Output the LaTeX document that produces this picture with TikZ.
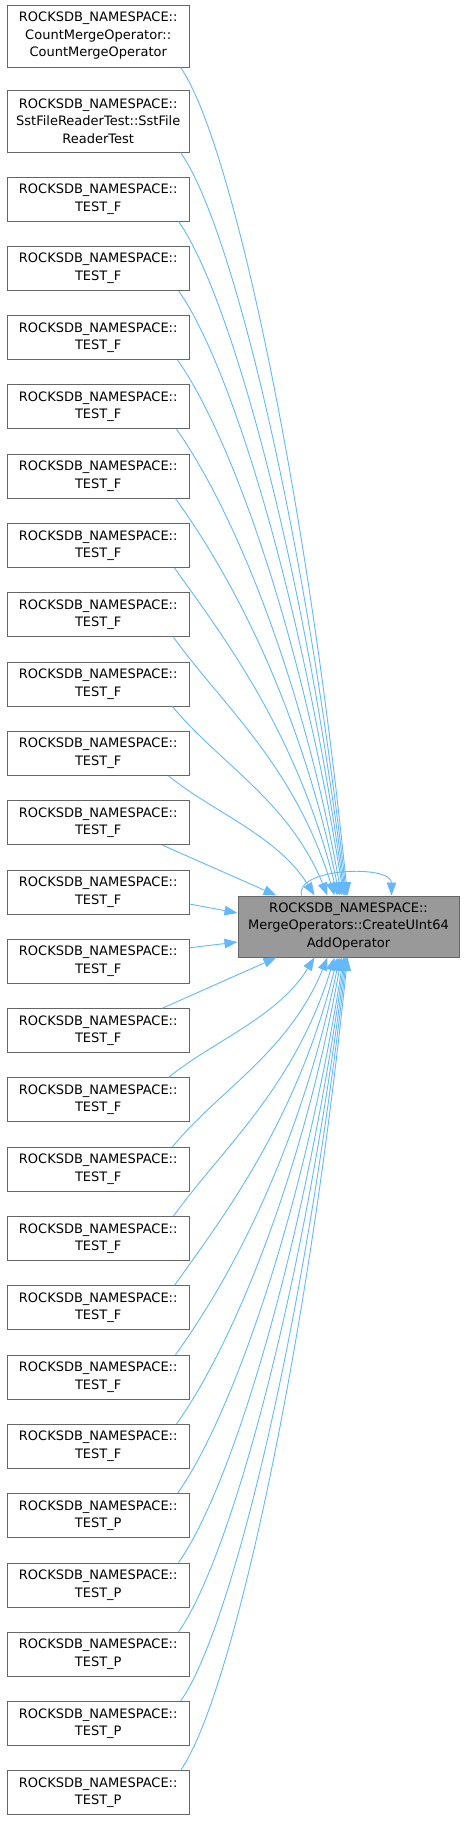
\documentclass[tikz,border=0pt]{standalone}
\usepackage{fontspec}
\setmainfont{DejaVu Sans}
\usetikzlibrary{arrows.meta}
\definecolor{edgeblue}{HTML}{63B8FF}
\definecolor{boxgray}{HTML}{666666}
\definecolor{fillgray}{HTML}{999999}
\begin{document}
\begin{tikzpicture}[x=1pt,y=-1pt,
  box/.style={draw=boxgray, line width=1pt, fill=white, minimum width=181.7pt, minimum height=44pt, inner sep=0pt, align=center, font=\fontsize{13}{17.5}\selectfont},
  mainbox/.style={box, fill=fillgray, minimum width=221pt, minimum height=61pt},
  edge/.style={draw=edgeblue, line width=0.9pt, -{Triangle[length=13pt,width=9.5pt]}}]
\useasboundingbox (0,0) rectangle (464,1821);

\node[box, minimum height=62pt] (b0) at (98.2,36) {ROCKSDB\_NAMESPACE::\\CountMergeOperator::\\CountMergeOperator};
\node[box, minimum height=62pt] (b1) at (98.2,121) {ROCKSDB\_NAMESPACE::\\SstFileReaderTest::SstFile\\ReaderTest};
\foreach \k in {2,...,20}
  \node[box] (b\k) at (98.2,{199+69.3*(\k-2)}) {ROCKSDB\_NAMESPACE::\\TEST\_F};
\foreach \k in {21,...,25}
  \node[box] (b\k) at (98.2,{199+69.3*(\k-2)}) {ROCKSDB\_NAMESPACE::\\TEST\_P};

\node[mainbox] (c) at (348.5,926.5) {ROCKSDB\_NAMESPACE::\\MergeOperators::CreateUInt64\\AddOperator};

% edges from upper boxes to the top of the main node
\foreach \k/\sx/\ex/\ax/\ay/\bx/\by in {
  0/-9/110/50/71/-42/-414,
  1/-9/109/50/70/-42/-372,
  2/-11/108/50/70/-42/-338,
  3/-11/107/50/70/-42/-303,
  4/-12/106/50/70/-42/-268,
  5/-13/104/50/70/-42/-234,
  6/-14/102/50/69/-41/-199,
  7/-15/100/49/69/-41/-164,
  8/-16/97/49/68/-40/-130,
  9/-17/90/47/57/-39/-95,
  10/-21/77/44/36/-37/-60}
  \draw[edge] ([xshift=\sx pt]b\k.south east) .. controls +(\ax,\ay) and +(\bx,\by) .. ([xshift=\ex pt]c.north west);
\draw[edge] ([xshift=-27pt]b11.south east) -- ([xshift=39pt]c.north west);

% edges from lower boxes to the bottom of the main node
\foreach \k/\sx/\ex/\ax/\ay/\bx/\by in {
  25/-9/110/50/-71/-42/407,
  24/-9/109/50/-70/-42/372,
  23/-11/108/50/-70/-42/338,
  22/-11/107/50/-70/-42/303,
  21/-12/106/50/-70/-42/268,
  20/-13/104/50/-70/-42/234,
  19/-14/102/50/-69/-41/199,
  18/-15/100/49/-69/-41/164,
  17/-16/97/49/-68/-40/130,
  16/-17/90/47/-57/-39/95,
  15/-21/77/44/-36/-37/60}
  \draw[edge] ([xshift=\sx pt]b\k.north east) .. controls +(\ax,\ay) and +(\bx,\by) .. ([xshift=\ex pt]c.south west);
\draw[edge] ([xshift=-27pt]b14.north east) -- ([xshift=39pt]c.south west);

% nearly horizontal edges
\draw[edge] ([yshift=-12pt]b12.east) -- ([yshift=13.5pt]c.west);
\draw[edge] ([yshift=13.5pt]b13.east) -- ([yshift=-15.5pt]c.west);

% self loop
\draw[edge] ([xshift=64pt]c.north west) .. controls +(-7,-28) and +(0,-31) .. ([xshift=154pt]c.north west);
\end{tikzpicture}
\end{document}
